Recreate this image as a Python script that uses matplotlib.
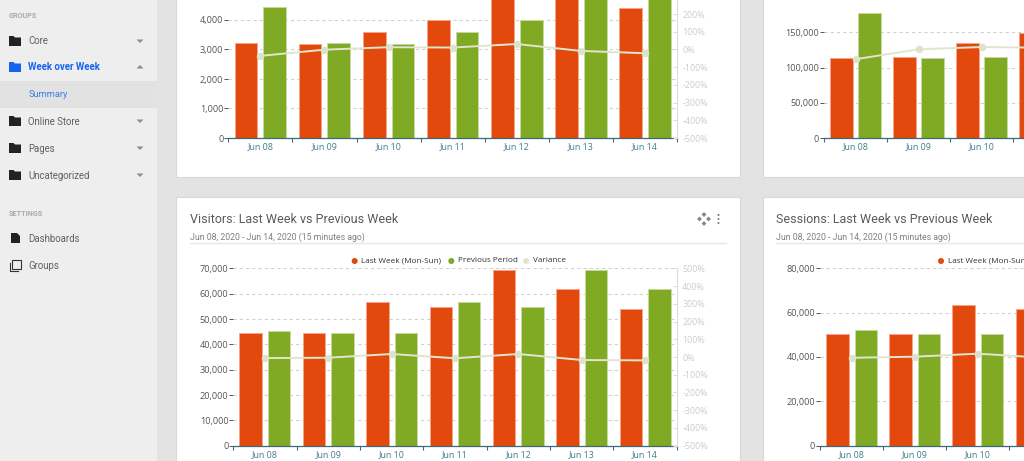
import matplotlib

matplotlib.use("Agg")
import matplotlib.pyplot as plt  # noqa: E402
from matplotlib.patches import Circle, Polygon, Rectangle  # noqa: E402

W, H = 1024, 461
RED = "#E3480D"
GREEN = "#80A924"
VAR = "#E0E6CE"

dates = ["Jun 08", "Jun 09", "Jun 10", "Jun 11", "Jun 12", "Jun 13", "Jun 14"]
legend_labels = ["Last Week (Mon-Sun)", "Previous Period", "Variance"]

# top left card (top of the chart is cut by the screenshot)
top_left_last = [3220, 3170, 3590, 4000, 5200, 5000, 4400]
top_left_prev = [4450, 3220, 3170, 3590, 4000, 5200, 5000]
top_left_var = [-36, -1, 13, 11, 31, -8, -21]
top_left_ticks = [0, 1000, 2000, 3000, 4000, 5000, 6000]

# top right card, only the first days are on screen
top_right_last = [114000, 115500, 135500, 149000]
top_right_prev = [177000, 114000, 115500, 135500]
top_right_var = [-55, 1, 14, 10]
top_right_ticks = [0, 50000, 100000, 150000, 200000, 250000]

# visitors card
visitors_last = [44500, 44600, 56600, 54900, 69500, 62000, 54100]
visitors_prev = [45100, 44400, 44600, 56600, 54900, 69500, 62000]
visitors_var = [-6, -4, 17, -7, 17, -17, -19]
visitors_ticks = [0, 10000, 20000, 30000, 40000, 50000, 60000, 70000]

# sessions card
sessions_last = [50200, 50500, 63200, 61400]
sessions_prev = [52000, 50200, 50500, 63200]
sessions_var = [-6, 0, 17, -5]
sessions_ticks = [0, 20000, 40000, 60000, 80000]

pct_ticks = [-500, -400, -300, -200, -100, 0, 100, 200, 300, 400, 500]

nav_items = ["Core", "Week over Week", "Online Store", "Pages", "Uncategorized"]
nav_y = [41, 67, 121, 148, 175]
settings_items = ["Dashboards", "Groups"]
settings_y = [238, 265]


fig = plt.figure(figsize=(W / 100, H / 100), dpi=100, facecolor="#E3E3E3")

# page furniture is laid out in screen pixels
bg = fig.add_axes([0, 0, 1, 1], zorder=0)
bg.set_xlim(0, W)
bg.set_ylim(H, 0)
bg.axis("off")


def card(x0, y0, x1, y1):
    bg.add_patch(Rectangle((x0, y0), x1 - x0, y1 - y0, fc="white", ec="#D9D9D9", lw=0.8))


def folder(x, y, color):
    pts = [(x, y - 5), (x + 4.5, y - 5), (x + 6, y - 3.5), (x + 12, y - 3.5),
           (x + 12, y + 5), (x, y + 5)]
    bg.add_patch(Polygon(pts, closed=True, fc=color, ec="none"))


def arrow(x, y, up=False):
    d = -1 if up else 1
    bg.add_patch(Polygon([(x - 3.5, y - d * 1.5), (x + 3.5, y - d * 1.5), (x, y + d * 2)],
                         closed=True, fc="#8C8C8C", ec="none"))


# sidebar
bg.add_patch(Rectangle((0, 0), 157, H, fc="#EEEEEE", ec="none"))
bg.add_patch(Rectangle((0, 81), 157, 27, fc="#E2E2E2", ec="none"))
bg.text(9, 16.5, "GROUPS", fontsize=5.2, fontweight="bold", color="#AAAAAA",
        family="Roboto", va="center")
bg.text(9, 213.5, "SETTINGS", fontsize=5.2, fontweight="bold", color="#AAAAAA",
        family="Roboto", va="center")
for name, y in zip(nav_items, nav_y):
    active = name == "Week over Week"
    folder(9, y, "#1464F0" if active else "#222222")
    bg.text(28, y + 0.5, name, fontsize=6.9, family="Roboto", va="center",
            color="#1464F0" if active else "#606060",
            fontweight="bold" if active else "normal")
    arrow(140, y, up=active)
bg.text(29, 94.5, "Summary", fontsize=6.6, family="Roboto", va="center", color="#3B7DEB")
for name, y in zip(settings_items, settings_y):
    bg.text(28, y + 0.5, name, fontsize=6.9, family="Roboto", va="center", color="#606060")
bg.add_patch(Polygon([(11, 233), (17, 233), (20, 236), (20, 243), (11, 243)],
                     closed=True, fc="#222222", ec="none"))
bg.add_patch(Rectangle((12, 260), 9, 9, fc="none", ec="#333333", lw=0.8))
bg.plot([9.5, 9.5, 18], [263, 271, 271], color="#333333", lw=0.8)

# cards
card(176, -5, 740, 177)
card(763, -5, 1040, 177)
card(176, 197, 740, 470)
card(763, 197, 1040, 470)


def header(x, title, rule_end):
    bg.text(x, 219.5, title, fontsize=9.0, family="Roboto", color="#5A5A5A", va="center")
    bg.text(x, 237.5, "Jun 08, 2020 - Jun 14, 2020 (15 minutes ago)", fontsize=6.3,
            family="Roboto", color="#808080", va="center")
    bg.plot([x, rule_end], [242.5, 242.5], color="#E6E6E6", lw=1)


def legend(x_marks, x_texts):
    for xm, xt, label, c in zip(x_marks, x_texts, legend_labels, [RED, GREEN, VAR]):
        bg.add_patch(Circle((xm, 261), 3, fc=c, ec="none"))
        bg.text(xt, 260.5, label, fontsize=5.85, family="Open Sans", color="#333333",
                va="center")


header(190, "Visitors: Last Week vs Previous Week", 726)
header(776, "Sessions: Last Week vs Previous Week", 1040)
legend([354.7, 451.3, 526], [361, 457.7, 532.7])
# the rest of this legend is past the screen edge
legend([941], [947.5])

# move icon and menu dots on the visitors card
for dx, dy in [(0, -4.5), (0, 4.5), (-4.5, 0), (4.5, 0)]:
    cx, cy = 704 + dx, 219 + dy
    bg.add_patch(Polygon([(cx - 2.5, cy), (cx, cy - 2.5), (cx + 2.5, cy), (cx, cy + 2.5)],
                         closed=True, fc="#8A8A8A", ec="none"))
for y in [215, 219, 223]:
    bg.add_patch(Circle((718.5, y), 1, fc="#777777", ec="none"))


def chart(x0, x1, y_base, px_per_tick, ticks, last, prev, var, zero_px):
    """One bar + variance chart. Pixel box comes from the screenshot."""
    y_top = y_base - px_per_tick * (len(ticks) - 1)
    ax = fig.add_axes([x0 / W, 1 - y_base / H, (x1 - x0) / W, (y_base - y_top) / H], zorder=1)
    ax.patch.set_visible(False)
    xs = list(range(len(last)))
    band = (x1 - x0) / 7
    ax.bar([i - 0.225 for i in xs], last, width=0.355, color=RED, edgecolor="#F4A58A", lw=0.7, zorder=2)
    ax.bar([i + 0.225 for i in xs], prev, width=0.355, color=GREEN, edgecolor="#C6DA9E", lw=0.7, zorder=2)
    ax.set_xlim(-0.5, 6.5)
    ax.set_ylim(ticks[0], ticks[-1])
    # only ticks that land on screen get a label
    shown = [t for i, t in enumerate(ticks) if y_base - i * px_per_tick > 0]
    ax.set_yticks(shown)
    ax.set_yticklabels([f"{t:,}" for t in shown], fontsize=6.6, family="Open Sans", color="#555555")
    ax.tick_params(axis="y", length=3.2, width=0.7, color="#555555", pad=0.4)
    edges = [i for i in range(8) if x0 + i * band < W]
    ax.set_xticks([i - 0.5 for i in edges])
    ax.set_xticklabels([])
    day_idx = [i for i in xs if x0 + (i + 0.5) * band < W - 20]
    ax.set_xticks(day_idx, [dates[i] for i in day_idx], minor=True, fontsize=6.4,
                  family="Open Sans", color="#3F7E8E")
    ax.tick_params(axis="x", which="major", length=2.6, width=0.8, color="#3E6B75")
    ax.tick_params(axis="x", which="minor", length=0, pad=3.2)
    ax.grid(axis="y", color="#CFCFCF", lw=0.75, linestyle=(0, (3, 3)), zorder=1)
    ax.set_axisbelow(True)
    for side in ["left", "top", "right"]:
        ax.spines[side].set_visible(False)
    ax.spines["bottom"].set_color("#3E6B75")
    ax.spines["bottom"].set_linewidth(0.9)

    ax2 = ax.twinx()
    ax2.set_zorder(2)
    px_per_pct = (y_base - zero_px) / 500
    ax2.set_ylim((zero_px - y_base) / px_per_pct, (zero_px - y_top) / px_per_pct)
    ax2.plot(xs, var, color=VAR, lw=1.4, marker="o", ms=5.4, mfc="#DDE3CB", mec="none",
             clip_on=False)
    shown_pct = [p for p in pct_ticks if zero_px - p * px_per_pct > 5] if x1 < W else []
    ax2.set_yticks(shown_pct)
    ax2.set_yticklabels([f"{p}%" for p in shown_pct], fontsize=6.4, family="Open Sans", color="#CCCCCC")
    ax2.tick_params(axis="y", direction="in", length=2.6, width=0.7, color="#DDDDDD", pad=4)
    for side in ["left", "top", "bottom"]:
        ax2.spines[side].set_visible(False)
    ax2.spines["right"].set_color("#DDDDDD")
    ax2.spines["right"].set_linewidth(0.8)


chart(228.3, 677, 138, 29.5, top_left_ticks, top_left_last, top_left_prev, top_left_var, 49.5)
chart(824, 1265, 138, 35.2, top_right_ticks, top_right_last, top_right_prev, top_right_var, 49.5)
chart(233.3, 676.7, 445.7, 25.34, visitors_ticks, visitors_last, visitors_prev, visitors_var, 356)
chart(820, 1262, 445.7, 44.4, sessions_ticks, sessions_last, sessions_prev, sessions_var, 356.7)

fig.savefig("out.png", dpi=100, facecolor=fig.get_facecolor())
